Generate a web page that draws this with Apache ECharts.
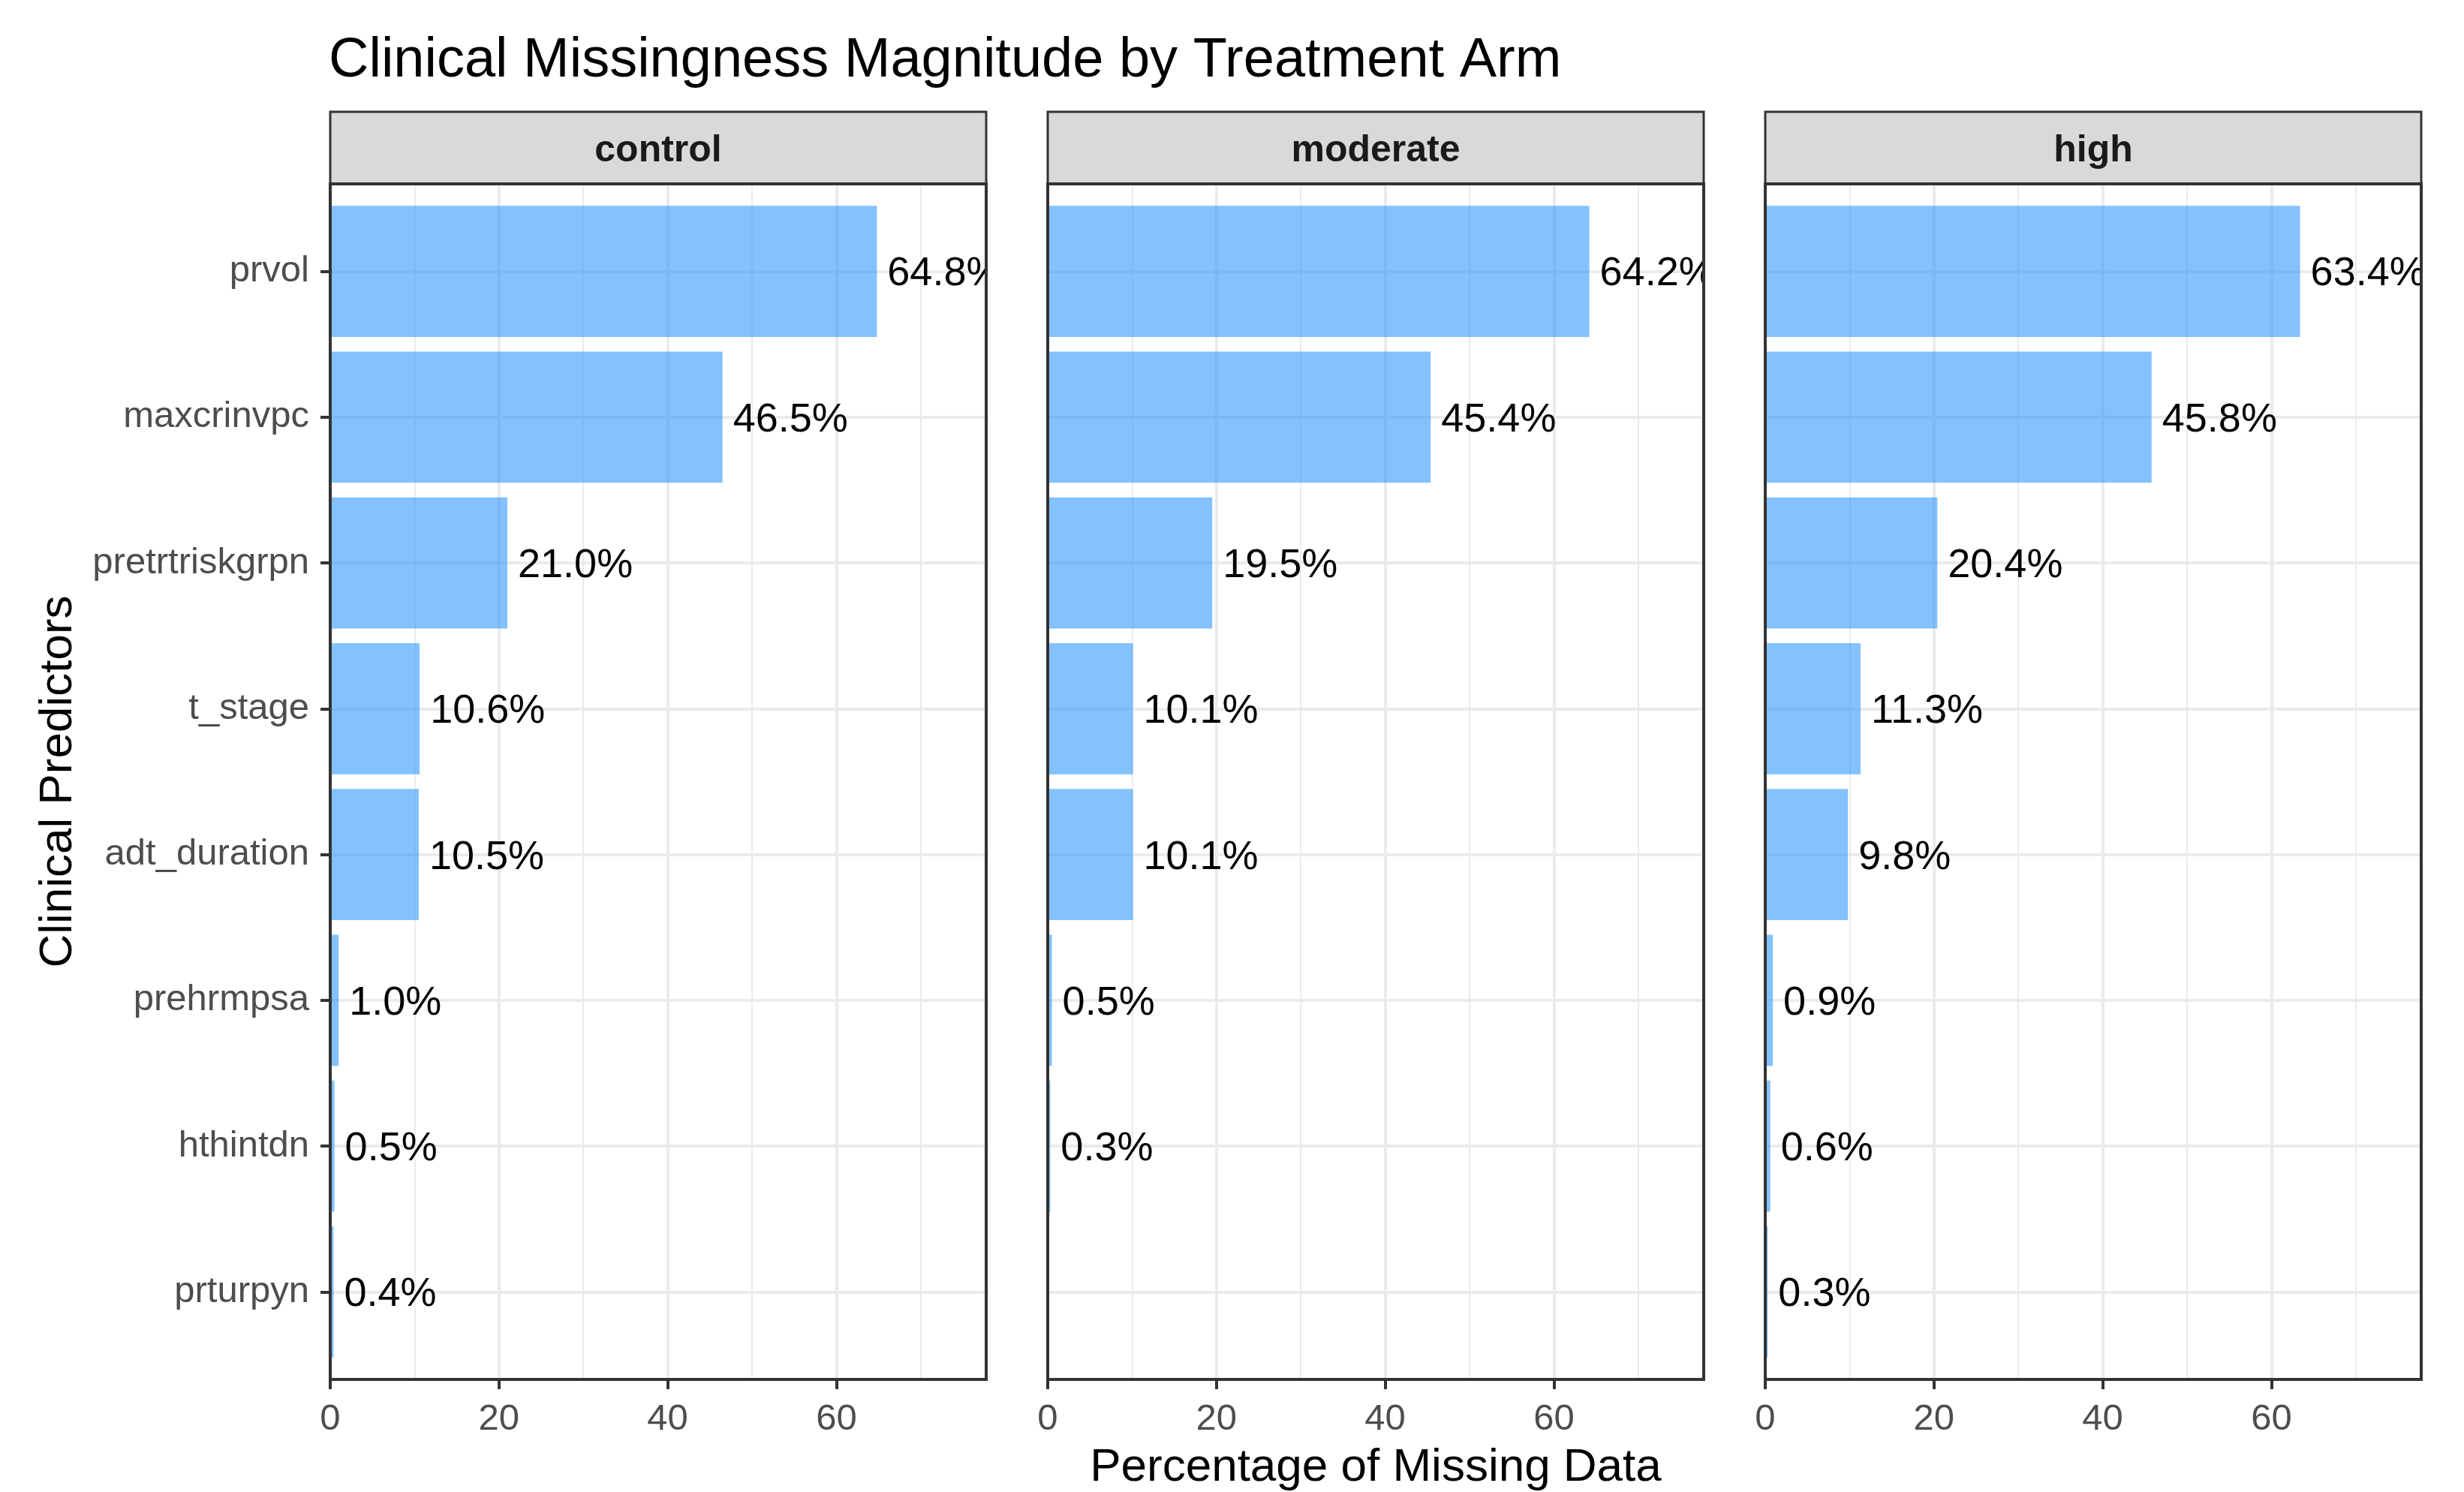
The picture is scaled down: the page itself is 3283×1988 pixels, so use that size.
<!DOCTYPE html>
<html lang="en">
<head>
<meta charset="UTF-8">
<title>Clinical Missingness Magnitude by Treatment Arm</title>
<script src="https://cdn.jsdelivr.net/npm/echarts@6/dist/echarts.min.js"></script>
<style>
    html, body { margin: 0; padding: 0; background: #ffffff; }
    #main { width: 3283px; height: 1988px; }
</style>
</head>
<body>
<div id="main"></div>
<script>
// values (percent missing per predictor, per arm)
var predictors = ['prvol', 'maxcrinvpc', 'pretrtriskgrpn', 't_stage', 'adt_duration', 'prehrmpsa', 'hthintdn', 'prturpyn'];
var arms = ['control', 'moderate', 'high'];
var controlPct = [64.8, 46.5, 21.0, 10.6, 10.5, 1.0, 0.5, 0.4];
var moderatePct = [64.2, 45.4, 19.5, 10.1, 10.1, 0.5, 0.3, null]; // no prturpyn row in moderate
var highPct = [63.4, 45.8, 20.4, 11.3, 9.8, 0.9, 0.6, 0.3];
var xTicks = [0, 20, 40, 60];

var armValues = [controlPct, moderatePct, highPct];
var allVals = [].concat(controlPct, moderatePct, highPct).filter(function (v) { return v != null; });
var xMax = Math.max.apply(null, allVals) * 1.2;   // ggplot-style upper expansion

// layout, px
var FONT = '"Liberation Sans", Arial, sans-serif';
var panelLeft = 440, panelW = 874, panelGap = 82;
var stripTop = 149, plotTop = 245, plotBottom = 1838;
var plotH = plotBottom - plotTop;
var band = plotH / (predictors.length + 0.2);
var barColor = 'rgba(30,144,255,0.55)';
var gridColor = '#EBEBEB';

var grids = [], xAxes = [], yAxes = [], series = [], graphics = [];

arms.forEach(function (arm, i) {
    var L = panelLeft + i * (panelW + panelGap);

    // A: full panel (vertical grid lines, x ticks/labels)
    grids.push({left: L, top: plotTop, width: panelW, height: plotH, containLabel: false, outerBoundsMode: 'none'});
    // B: bars (category bands inset by ggplot's 0.6 expansion)
    grids.push({left: L, top: plotTop + 0.1 * band, width: panelW, height: band * predictors.length, containLabel: false, outerBoundsMode: 'none'});
    // C: horizontal grid lines through category centres
    grids.push({left: L, top: plotTop + 0.6 * band, width: panelW, height: band * (predictors.length - 1), containLabel: false, outerBoundsMode: 'none'});

    xAxes.push({
        gridIndex: 3 * i, type: 'value', position: 'top', min: 0, max: xMax, interval: 10,
        axisLine: {show: false, onZero: false}, axisTick: {show: false}, axisLabel: {show: false},
        splitLine: {show: true, lineStyle: {color: gridColor, width: 2}}
    });
    xAxes.push({
        gridIndex: 3 * i, type: 'value', position: 'bottom', min: 0, max: xMax, interval: 20,
        axisLine: {show: false, onZero: false},
        axisTick: {show: true, length: 13, customValues: xTicks, lineStyle: {color: '#333333', width: 4}},
        axisLabel: {
            show: true, margin: 29, fontSize: 49, color: '#4D4D4D', fontFamily: FONT, customValues: xTicks,
            formatter: function (v) { return xTicks.indexOf(v) >= 0 ? String(v) : ''; }
        },
        splitLine: {show: true, lineStyle: {color: gridColor, width: 4}},
        name: i === 1 ? 'Percentage of Missing Data' : '',
        nameLocation: 'middle', nameGap: 87,
        nameTextStyle: {fontSize: 62, color: '#000000', fontFamily: FONT}
    });
    xAxes.push({gridIndex: 3 * i + 1, type: 'value', min: 0, max: xMax, show: false});
    xAxes.push({gridIndex: 3 * i + 2, type: 'value', min: 0, max: xMax, show: false});

    yAxes.push({gridIndex: 3 * i, type: 'value', show: false});
    yAxes.push({
        gridIndex: 3 * i + 1, type: 'category', inverse: true, data: predictors,
        axisLine: {show: false, onZero: false},
        axisTick: {show: i === 0, alignWithLabel: true, length: 13, lineStyle: {color: '#333333', width: 4}},
        axisLabel: {show: i === 0, interval: 0, margin: 28, fontSize: 49, color: '#4D4D4D', fontFamily: FONT,
            padding: [8, 0, 0, 0]},
        splitLine: {show: false},
        name: i === 0 ? 'Clinical Predictors' : '',
        nameLocation: 'middle', nameRotate: 90, nameGap: 331,
        nameTextStyle: {fontSize: 62, color: '#000000', fontFamily: FONT}
    });
    yAxes.push({
        gridIndex: 3 * i + 2, type: 'category', inverse: true, boundaryGap: false, data: predictors,
        axisLine: {show: false}, axisTick: {show: false}, axisLabel: {show: false, interval: 0},
        splitLine: {show: true, interval: 0, lineStyle: {color: gridColor, width: 4}}
    });

    series.push({
        name: arm, type: 'bar', xAxisIndex: 4 * i + 2, yAxisIndex: 3 * i + 1,
        data: armValues[i], barWidth: '90%', silent: true,
        itemStyle: {color: barColor},
        label: {
            show: true, position: 'right', distance: 14, offset: [0, 4],
            fontSize: 54, color: '#000000', fontFamily: FONT,
            formatter: function (p) {
                return (typeof p.value === 'number' && !isNaN(p.value)) ? p.value.toFixed(1) + '%' : '';
            }
        }
    });

    // strip, clipping gap, panel border
    graphics.push({type: 'rect', z: 100, shape: {x: L, y: stripTop, width: panelW, height: plotTop - stripTop},
        style: {fill: '#D9D9D9', stroke: '#333333', lineWidth: 3}});
    graphics.push({type: 'text', z: 101, x: L + panelW / 2, y: (stripTop + plotTop) / 2 + 4,
        style: {text: arm, fontSize: 50, fontWeight: 'bold', fontFamily: FONT, fill: '#1A1A1A', align: 'center', verticalAlign: 'middle'}});
    var gapW = (i < arms.length - 1) ? panelGap - 4 : 3283 - (L + panelW + 2);
    graphics.push({type: 'rect', z: 100, shape: {x: L + panelW + 2, y: plotTop + 2, width: gapW, height: plotH - 4},
        style: {fill: '#ffffff'}});
    graphics.push({type: 'rect', z: 102, shape: {x: L, y: plotTop, width: panelW, height: plotH},
        style: {fill: 'none', stroke: '#333333', lineWidth: 4}});
});

var myChart = echarts.init(document.getElementById('main'), null, {renderer: 'canvas'});
myChart.setOption({
    animation: false,
    backgroundColor: '#ffffff',
    textStyle: {fontFamily: FONT},
    title: {
        text: 'Clinical Missingness Magnitude by Treatment Arm',
        left: 438, top: 45, padding: 0,
        textStyle: {fontSize: 74, fontWeight: 'normal', color: '#000000', fontFamily: FONT}
    },
    grid: grids,
    xAxis: xAxes,
    yAxis: yAxes,
    series: series,
    graphic: graphics
});
</script>
</body>
</html>
